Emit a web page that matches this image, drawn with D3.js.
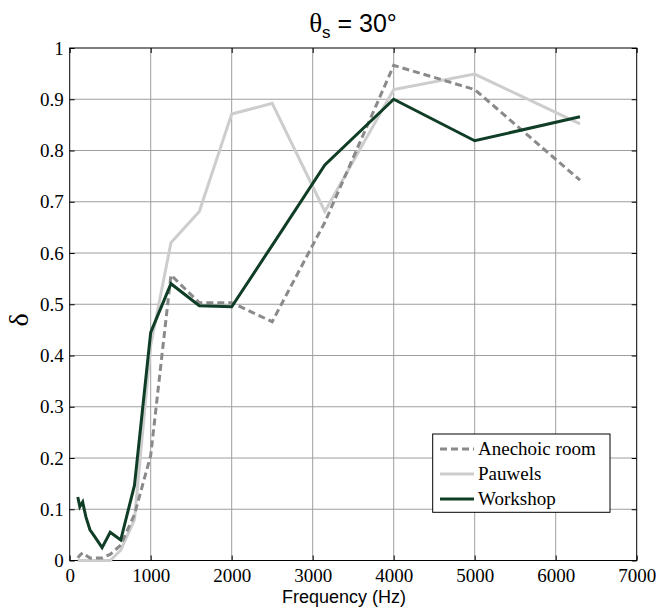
<!DOCTYPE html>
<html>
<head>
<meta charset="utf-8">
<script src="https://cdn.jsdelivr.net/npm/d3@7"></script>
<style>
  body { margin: 0; background: #fff; }
  svg { display: block; }
</style>
</head>
<body>
<svg id="chart" width="659" height="615"></svg>
<script>
// ---- data ----
const frequencies = [100, 125, 160, 200, 250, 315, 400, 500, 630, 800, 1000, 1250, 1600, 2000, 2500, 3150, 4000, 5000, 6300];
const anechoic = [0.005, 0.01, 0.015, 0.01, 0.005, 0.005, 0.005, 0.012, 0.03, 0.09, 0.205, 0.557, 0.503, 0.503, 0.466, 0.66, 0.966, 0.919, 0.742];
const pauwels  = [0, 0, 0, 0, 0, 0, 0, 0, 0.02, 0.08, 0.42, 0.62, 0.681, 0.871, 0.892, 0.681, 0.919, 0.949, 0.852];
const workshop = [0.124, 0.105, 0.114, 0.085, 0.06, 0.045, 0.025, 0.055, 0.04, 0.147, 0.445, 0.54, 0.497, 0.495, 0.615, 0.772, 0.9, 0.819, 0.866];
const seriesNames = ["Anechoic room", "Pauwels", "Workshop"];
const xTicks = [0, 1000, 2000, 3000, 4000, 5000, 6000, 7000];
const yTicks = [0, 0.1, 0.2, 0.3, 0.4, 0.5, 0.6, 0.7, 0.8, 0.9, 1];
const yTickLabels = ["0", "0.1", "0.2", "0.3", "0.4", "0.5", "0.6", "0.7", "0.8", "0.9", "1"];

// ---- layout ----
const svg = d3.select("#chart");
const L = 69.7, R = 636.7, T = 48, B = 560.5;
const x = d3.scaleLinear().domain([0, 7000]).range([L, R]);
const y = d3.scaleLinear().domain([0, 1]).range([B, T]);
const serif = "'Liberation Serif','Times New Roman',serif";
const sans = "'Liberation Sans',Arial,sans-serif";

// grid
const grid = svg.append("g");
grid.selectAll(".gx").data(xTicks.slice(1, -1)).enter().append("line")
  .attr("x1", d => x(d)).attr("x2", d => x(d)).attr("y1", T).attr("y2", B)
  .attr("stroke", "#9e9e9e").attr("stroke-width", 1);
grid.selectAll(".gy").data(yTicks.slice(1, -1)).enter().append("line")
  .attr("y1", d => y(d)).attr("y2", d => y(d)).attr("x1", L).attr("x2", R)
  .attr("stroke", "#9e9e9e").attr("stroke-width", 1);

// axes (ticks inward, labels)
const tickLen = 5;
const xAxisB = d3.axisBottom(x).tickValues(xTicks).tickSize(-tickLen).tickPadding(8).tickFormat(d3.format("d"));
const xAxisT = d3.axisTop(x).tickValues(xTicks).tickSize(-tickLen).tickFormat("");
const yAxisL = d3.axisLeft(y).tickValues(yTicks).tickSize(-tickLen).tickPadding(6).tickFormat((d, i) => yTickLabels[i]);
const yAxisR = d3.axisRight(y).tickValues(yTicks).tickSize(-tickLen).tickFormat("");

function styleAxis(g) {
  g.select(".domain").remove();
  g.selectAll(".tick line").attr("stroke", "#000").attr("stroke-width", 1);
  g.selectAll("text").attr("font-family", serif).attr("font-size", 19).attr("fill", "#000");
}
svg.append("g").attr("transform", `translate(0,${B})`).call(xAxisB).call(styleAxis);
svg.append("g").attr("transform", `translate(0,${T})`).call(xAxisT).call(styleAxis);
svg.append("g").attr("transform", `translate(${L},0)`).call(yAxisL).call(styleAxis);
svg.append("g").attr("transform", `translate(${R},0)`).call(yAxisR).call(styleAxis);

// box
svg.append("rect").attr("x", L).attr("y", T).attr("width", R - L).attr("height", B - T)
  .attr("fill", "none").attr("stroke", "#000").attr("stroke-width", 1);

// lines
const styles = [
  { data: anechoic, color: "#8a8a8a", dash: "7,4" },
  { data: pauwels, color: "#cdcdcd", dash: null },
  { data: workshop, color: "#0f3d26", dash: null }
];
const line = d3.line().x(d => x(d[0])).y(d => y(d[1]));
const drawOrder = [1, 0, 2];
drawOrder.forEach(i => {
  const s = styles[i];
  svg.append("path")
    .datum(frequencies.map((f, k) => [f, s.data[k]]))
    .attr("d", line)
    .attr("fill", "none")
    .attr("stroke", s.color)
    .attr("stroke-width", 3)
    .attr("stroke-linejoin", "miter")
    .attr("stroke-dasharray", s.dash);
});

// legend
const lg = svg.append("g");
lg.append("rect").attr("x", 432.7).attr("y", 434).attr("width", 177.3).attr("height", 78.3)
  .attr("fill", "#fff").attr("stroke", "#000").attr("stroke-width", 1);
seriesNames.forEach((name, i) => {
  const yy = 449 + i * 25;
  lg.append("line").attr("x1", 440).attr("x2", 474).attr("y1", yy).attr("y2", yy)
    .attr("stroke", styles[i].color).attr("stroke-width", 3).attr("stroke-dasharray", styles[i].dash);
  lg.append("text").attr("x", 478).attr("y", yy + 6).text(name)
    .attr("font-family", serif).attr("font-size", 19).attr("fill", "#000");
});

// title
const title = svg.append("text").attr("x", 353).attr("y", 32).attr("text-anchor", "middle")
  .attr("font-family", sans).attr("font-size", 25).attr("fill", "#000");
title.append("tspan").text("θ").attr("font-family", serif).attr("font-size", 27);
title.append("tspan").text("s").attr("font-size", 17).attr("dy", 6);
title.append("tspan").text(" = 30°").attr("dy", -6);

// axis labels
svg.append("text").attr("x", 344).attr("y", 603).attr("text-anchor", "middle")
  .attr("font-family", sans).attr("font-size", 18).attr("fill", "#000").text("Frequency (Hz)");
svg.append("text").attr("transform", "translate(28,320) rotate(-90)").attr("text-anchor", "middle")
  .attr("font-family", serif).attr("font-size", 28).attr("fill", "#000").text("δ");
</script>
</body>
</html>
